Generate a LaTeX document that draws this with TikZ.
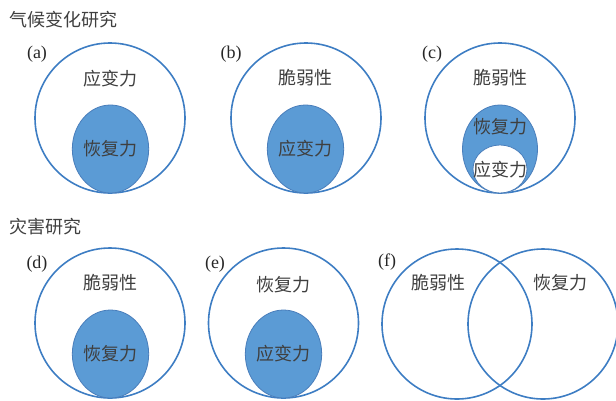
\documentclass[tikz,border=0pt]{standalone}
\usepackage{fontspec}
\setmainfont{Liberation Serif}
\newfontfamily\cjk{Noto Sans CJK SC}
\usetikzlibrary{shapes.geometric}
\definecolor{ringBlue}{HTML}{3D7DC3}
\definecolor{fillBlue}{HTML}{5B9BD5}
\definecolor{edgeBlue}{HTML}{4A7EBB}
\definecolor{textGray}{HTML}{3F3F3F}

\begin{document}
\begin{tikzpicture}[x=1pt, y=-1pt, font=\cjk\fontsize{18}{18}\selectfont, text=textGray,
    ring/.style={circle, draw=ringBlue, line width=1.6pt, minimum size=150pt, inner sep=0pt},
    core/.style={ellipse, draw=edgeBlue, fill=fillBlue, line width=0.8pt,
                 minimum width=75pt, minimum height=88pt, inner sep=0pt},
    tag/.style={font=\rmfamily\fontsize{18}{18}\selectfont, text=black!85}]
  \useasboundingbox (0,0) rectangle (616,400);

  \node[anchor=west] (climate) at (6,20) {气候变化研究};
  \node[anchor=west] (hazard) at (6,227) {灾害研究};

  \node[ring] (ringA) at (110,118) {};
  \node[core] (coreA) at (110.5,149) {恢复力};
  \node (textA) at (110,79) {应变力};
  \node[tag] (tagA) at (37,54) {(a)};

  \node[ring] (ringB) at (306,118) {};
  \node[core] (coreB) at (305.5,149) {应变力};
  \node (textB) at (305,78) {脆弱性};
  \node[tag] (tagB) at (231,54) {(b)};

  \node[ring] (ringC) at (500,118) {};
  \node[core] (coreC) at (500,149) {};
  \node[ellipse, fill=white, draw=edgeBlue, line width=0.8pt, minimum width=54pt,
        minimum height=48pt, inner sep=0pt] (holeC) at (500,169) {};
  \node (textC) at (500,78) {脆弱性};
  \node (innerC) at (500,127) {恢复力};
  \node (holeTextC) at (500,170) {应变力};
  \node[tag] (tagC) at (432,54) {(c)};

  \node[ring] (ringD) at (110,323) {};
  \node[core] (coreD) at (110.5,354) {恢复力};
  \node (textD) at (110,283) {脆弱性};
  \node[tag] (tagD) at (37,264) {(d)};

  \node[ring] (ringE) at (283.5,323) {};
  \node[core] (coreE) at (283.5,354) {应变力};
  \node (textE) at (283,285) {恢复力};
  \node[tag] (tagE) at (215,264) {(e)};

  \node[ring] (ringF1) at (457,324) {};
  \node[ring] (ringF2) at (543,324) {};
  \node (textF1) at (438,283) {脆弱性};
  \node (textF2) at (560,283) {恢复力};
  \node[tag] (tagF) at (387,262) {(f)};
\end{tikzpicture}
\end{document}
